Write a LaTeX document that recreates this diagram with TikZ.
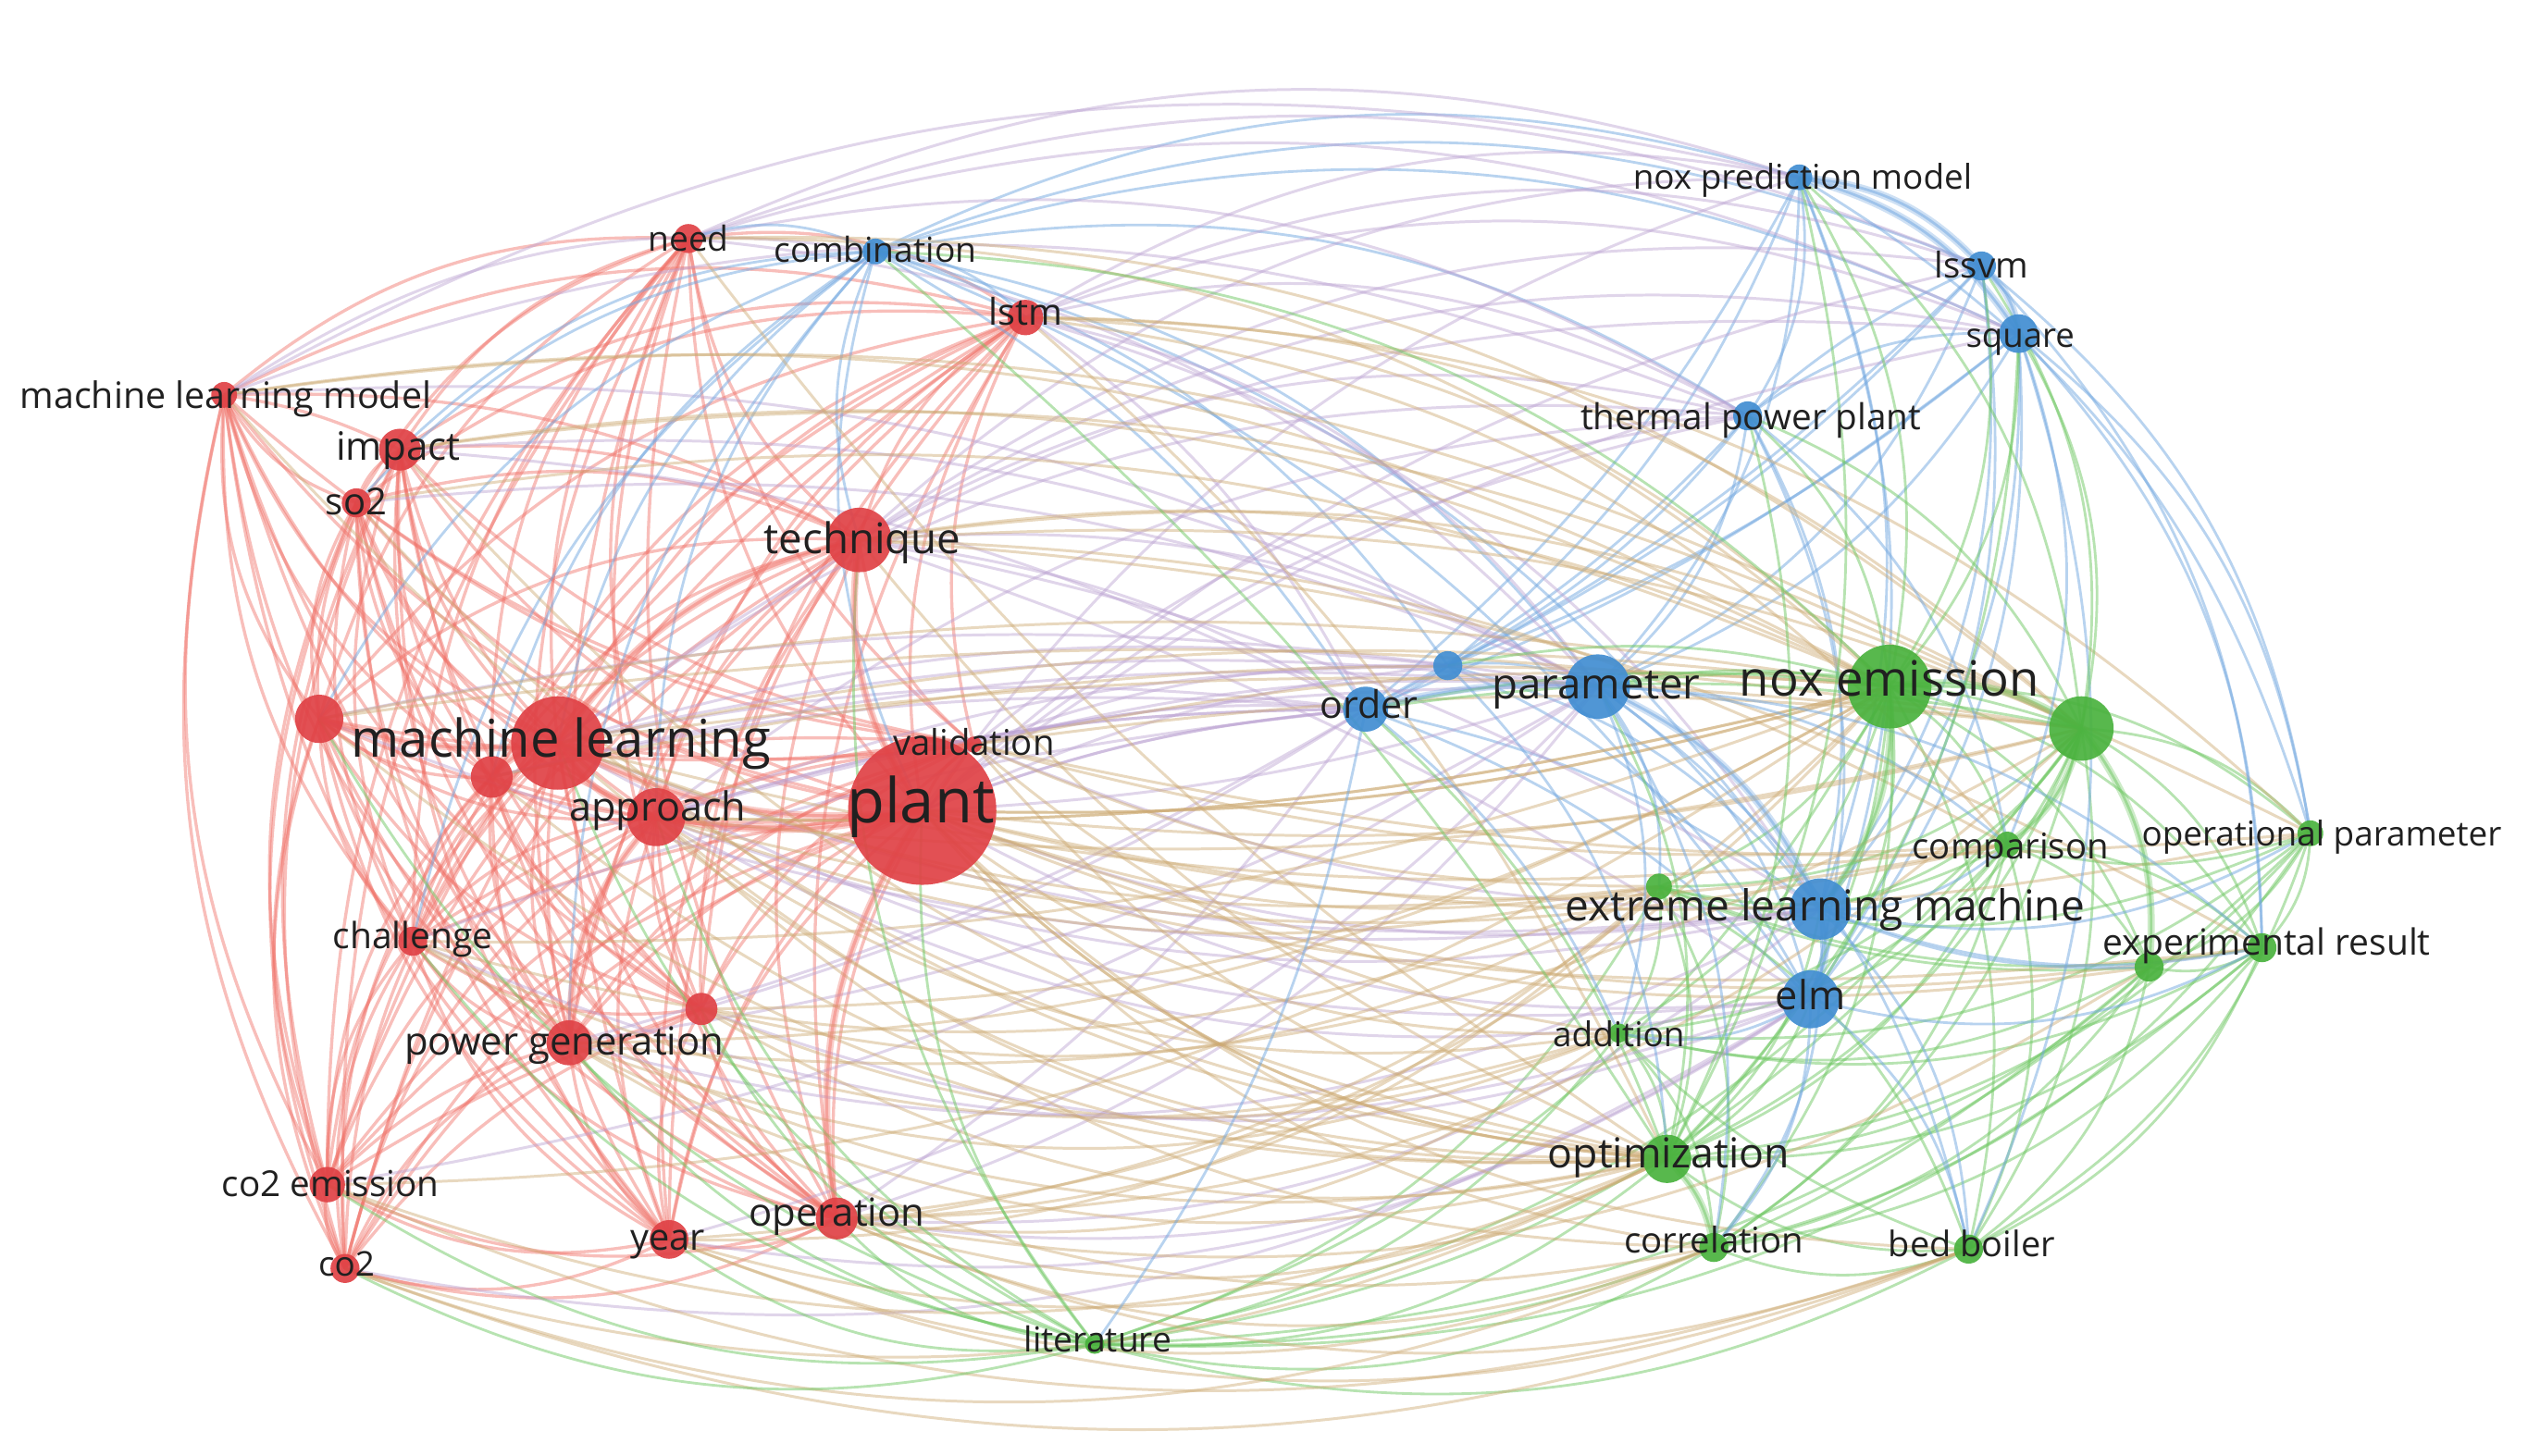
\documentclass[tikz,border=0pt]{standalone}
\usepackage{fontspec}
\setmainfont{Open Sans}
\usetikzlibrary{calc}
\pgfdeclarelayer{bg}
\pgfdeclarelayer{edges}
\pgfsetlayers{bg,edges,main}
\definecolor{nR}{RGB}{224,66,70}
\definecolor{nB}{RGB}{66,142,210}
\definecolor{nG}{RGB}{74,178,62}
\definecolor{eR}{RGB}{240,112,102}
\definecolor{eB}{RGB}{115,168,225}
\definecolor{eG}{RGB}{112,200,100}
\definecolor{eRG}{RGB}{205,170,115}
\definecolor{eRB}{RGB}{188,162,210}
\definecolor{txt}{RGB}{32,32,32}
\tikzset{
  sR/.style={draw=eR, line width=0.95pt, draw opacity=0.45},
  sB/.style={draw=eB, line width=0.8pt, draw opacity=0.5},
  sG/.style={draw=eG, line width=0.8pt, draw opacity=0.5},
  sRG/.style={draw=eRG, line width=0.85pt, draw opacity=0.45},
  sRB/.style={draw=eRB, line width=0.85pt, draw opacity=0.45},
  heavy/.style={line width=2.2pt, draw opacity=0.35},
  kw/.style={circle, inner sep=0pt, minimum size={2*#1*0.4957pt}},
  rn/.style={kw=#1, fill=nR, fill opacity=0.92},
  bn/.style={kw=#1, fill=nB, fill opacity=0.92},
  gn/.style={kw=#1, fill=nG, fill opacity=0.92},
  lab/.style={text=txt, inner sep=0pt, anchor=mid, yshift=-1.6pt, font=\fontsize{#1}{#1}\selectfont},
}
\newcommand\edgeC[3]{%
  \draw[#1] let \p1=(#2.center), \p2=(#3.center), \p3=(ctr),
    \n1={-(\y2-\y1)/100*((\x1+\x2)/200-\x3/100)+(\x2-\x1)/100*((\y1+\y2)/200-\y3/100)},
    \n2={veclen((\x2-\x1)/100,(\y2-\y1)/100)},
    \n3={ifthenelse(\n1>0,1,-1)*(7+14*min(1,abs(\n1/\n2)/0.6))}
    in (#2.center) to[bend left=\n3] (#3.center);}
\def\Rlist{plant,ml,mlx,lft,appr,tech,imp,so2,mlm,need,lstm,chal,pgen,rx,co2e,co2,year,oper,valid}
\def\Blist{comb,npm,lssvm,sq,tpp,order,bx,param,elmm,elm}
\def\Glist{noxe,gx,comp,opp,expr,expr2,gx2,addi,opt,corr,bed,lit}
\begin{document}
\begin{tikzpicture}[x=0.017423cm, y=-0.017423cm]
\begin{pgfonlayer}{bg}
\fill[white] (0,0) rectangle (1568,903);
\end{pgfonlayer}
\useasboundingbox (0,0) rectangle (1568,903);
\coordinate (ctr) at (790,460);
% red nodes
\node[rn=13] (mlx) at (305,482) {};
\node[rn=46] (plant) at (572,503) {};
\node[rn=29] (ml) at (346,461) {};
\node[rn=15] (lft) at (198,446) {};
\node[rn=18] (appr) at (407,507) {};
\node[rn=20] (tech) at (533,335) {};
\node[rn=13] (imp) at (248,279) {};
\node[rn=9] (so2) at (221,312) {};
\node[rn=8] (mlm) at (139,245) {};
\node[rn=9] (need) at (427,148) {};
\node[rn=11] (lstm) at (636,197) {};
\node[rn=9] (chal) at (256,584) {};
\node[rn=14] (pgen) at (353,647) {};
\node[rn=10] (rx) at (435,626) {};
\node[rn=11] (co2e) at (203,735) {};
\node[rn=9] (co2) at (214,787) {};
\node[rn=12] (year) at (415,769) {};
\node[rn=13] (oper) at (519,756) {};
\node[rn=5] (valid) at (604,462) {};
% blue nodes
\node[bn=8] (comb) at (543,156) {};
\node[bn=8] (npm) at (1116,110) {};
\node[bn=9] (lssvm) at (1229,165) {};
\node[bn=12] (sq) at (1252,207) {};
\node[bn=9] (tpp) at (1084,258) {};
\node[bn=14] (order) at (847,440) {};
\node[bn=9] (bx) at (898,413) {};
\node[bn=20] (param) at (991,426) {};
\node[bn=19] (elmm) at (1129,564) {};
\node[bn=18] (elm) at (1123,620) {};
% green nodes
\node[gn=26] (noxe) at (1172,426) {};
\node[gn=20] (gx) at (1291,452) {};
\node[gn=8] (comp) at (1245,524) {};
\node[gn=8] (opp) at (1433,517) {};
\node[gn=9] (expr) at (1403,588) {};
\node[gn=9] (expr2) at (1333,600) {};
\node[gn=8] (gx2) at (1029,550) {};
\node[gn=6] (addi) at (1004,641) {};
\node[gn=15] (opt) at (1034,719) {};
\node[gn=9] (corr) at (1063,774) {};
\node[gn=9] (bed) at (1221,775) {};
\node[gn=6] (lit) at (679,834) {};
\begin{pgfonlayer}{edges}
% edges within clusters
\foreach \a [count=\i] in \Rlist {\foreach \b [count=\j] in \Rlist {\ifnum\j>\i \edgeC{sR}{\a}{\b}\fi}}
\foreach \a [count=\i] in \Blist {\foreach \b [count=\j] in \Blist {\ifnum\j>\i \edgeC{sB}{\a}{\b}\fi}}
\foreach \a [count=\i] in \Glist {\foreach \b [count=\j] in \Glist {\ifnum\j>\i \edgeC{sG}{\a}{\b}\fi}}
% red - blue
\foreach \a/\b in {plant/order,plant/bx,plant/param,plant/elmm,plant/elm,plant/tpp,plant/npm,plant/sq,plant/lssvm,
  ml/order,ml/param,ml/elmm,ml/elm,ml/tpp,appr/order,appr/param,appr/elmm,appr/elm,
  tech/order,tech/param,tech/elm,tech/tpp,tech/sq,lstm/npm,lstm/tpp,lstm/param,lstm/order,lstm/lssvm,lstm/sq,
  need/npm,need/lssvm,need/tpp,mlm/npm,mlm/comb,imp/param,valid/order,valid/param,valid/elmm,
  oper/elm,oper/param,oper/order,year/param,pgen/order,pgen/param,lft/param,mlx/order,
  mlx/param,lft/elmm,imp/order,so2/param,chal/elm,chal/order,pgen/elmm,rx/elm,rx/order,year/elm,
  co2e/param,co2/elm,mlm/param,mlm/tpp,need/sq,need/param,lstm/elmm,tech/elmm,tech/npm,tech/lssvm,
  ml/bx,ml/sq,appr/bx,appr/tpp,oper/elmm,valid/bx,valid/tpp,plant/order,appr/order}
  {\edgeC{sRB}{\a}{\b}}
\foreach \a/\b in {comb/imp,comb/so2,comb/tech,comb/ml,comb/appr,comb/mlx,comb/lft,comb/plant,comb/need,comb/lstm,comb/pgen,comb/chal}
  {\edgeC{sB}{\a}{\b}}
% red - green
\foreach \a/\b in {plant/noxe,plant/gx,plant/comp,plant/opp,plant/expr,plant/opt,plant/corr,plant/bed,plant/addi,plant/gx2,
  ml/noxe,ml/opt,ml/gx,ml/expr,appr/noxe,appr/opt,appr/addi,appr/gx2,tech/noxe,tech/gx,tech/opt,tech/comp,
  oper/opt,oper/corr,oper/bed,oper/noxe,oper/gx2,oper/addi,year/opt,year/corr,year/bed,co2/bed,co2/corr,co2e/opt,
  pgen/opt,pgen/noxe,pgen/addi,lstm/noxe,lstm/gx,lstm/opp,chal/opt,rx/opt,
  valid/noxe,valid/gx,valid/opp,valid/comp,need/noxe,need/gx,mlm/noxe,imp/noxe,imp/opt,
  mlx/noxe,mlx/opt,lft/noxe,lft/gx,lft/opt,imp/gx,so2/noxe,so2/opt,chal/noxe,chal/gx2,pgen/gx,pgen/corr,
  rx/noxe,rx/addi,year/noxe,year/gx2,co2e/noxe,co2e/bed,co2/opt,mlm/gx,mlm/opt,need/opt,lstm/comp,lstm/opt,
  tech/opp,tech/expr,ml/comp,ml/gx2,appr/gx,appr/comp,appr/corr,oper/gx,oper/expr2,valid/opt,valid/addi,
  valid/gx2,plant/expr2,chal/addi,rx/gx2,plant/noxe,plant/opt,appr/noxe}
  {\edgeC{sRG}{\a}{\b}}
\foreach \a/\b in {lit/plant,lit/ml,lit/appr,lit/oper,lit/year,lit/pgen,lit/co2,lit/co2e,lit/chal,lit/rx,lit/lft,lit/tech}
  {\edgeC{sG}{\a}{\b}}
% blue - green
\foreach \a/\b in {param/comp,param/corr,param/bed,param/expr,param/addi,param/gx2,
  elmm/comp,elmm/expr,elmm/expr2,elmm/bed,elmm/corr,elmm/opp,elm/corr,elm/bed,elm/expr,elm/addi,
  order/addi,order/lit,sq/opp,sq/expr,sq/comp,sq/bed,lssvm/opp,lssvm/expr,npm/opp,tpp/comp,bx/opt}
  {\edgeC{sB}{\a}{\b}}
\foreach \a/\b in {noxe/param,gx/param,opt/param,noxe/elmm,gx/elmm,opt/elmm,noxe/elm,gx/elm,opt/elm,
  noxe/order,opt/order,gx/order,noxe/sq,gx/sq,opt/sq,gx/lssvm,noxe/lssvm,noxe/npm,gx/npm,opt/npm,
  noxe/tpp,gx/tpp,opt/tpp,noxe/bx,noxe/comb,opt/comb}
  {\edgeC{sG}{\a}{\b}}
% strong links
\foreach \a/\b in {plant/appr,plant/ml,ml/appr,plant/tech,ml/tech,ml/lft,appr/pgen,plant/oper,ml/mlx}
  {\edgeC{sR,heavy}{\a}{\b}}
\foreach \a/\b in {elmm/elm,param/elmm,lssvm/sq,npm/lssvm,npm/sq,order/param}
  {\edgeC{sB,heavy}{\a}{\b}}
\foreach \a/\b in {noxe/gx,noxe/elmm,gx/expr2,opt/corr,gx/comp}
  {\edgeC{sG,heavy}{\a}{\b}}
\end{pgfonlayer}
% labels
\node[lab=19] (t-plant) at (571,502) {plant};
\node[lab=16] (t-ml) at (348,461) {machine learning};
\node[lab=12.3] (t-appr) at (408,501) {approach};
\node[lab=13] (t-tech) at (535,335) {technique};
\node[lab=12] (t-imp) at (247,277) {impact};
\node[lab=11.4] (t-so2) at (221,311) {so2};
\node[lab=11.2] (t-mlm) at (140,245) {machine learning model};
\node[lab=10.6] (t-need) at (427,147) {need};
\node[lab=10.6] (t-comb) at (543,154) {combination};
\node[lab=11.3] (t-lstm) at (636,193) {lstm};
\node[lab=11.1] (t-chal) at (256,580) {challenge};
\node[lab=11.9] (t-pgen) at (350,646) {power generation};
\node[lab=11] (t-co2e) at (205,734) {co2 emission};
\node[lab=10.5] (t-co2) at (215,783) {co2};
\node[lab=11.3] (t-year) at (414,767) {year};
\node[lab=11.9] (t-oper) at (519,752) {operation};
\node[lab=10.9] (t-valid) at (604,460) {validation};
\node[lab=10.5] (t-npm) at (1118,109) {nox prediction model};
\node[lab=10.9] (t-lssvm) at (1229,164) {lssvm};
\node[lab=10.4] (t-sq) at (1253,207) {square};
\node[lab=11] (t-tpp) at (1086,258) {thermal power plant};
\node[lab=11.7] (t-order) at (849,437) {order};
\node[lab=13] (t-param) at (990,425) {parameter};
\node[lab=15] (t-noxe) at (1172,423) {nox emission};
\node[lab=10.9] (t-comp) at (1247,524) {comparison};
\node[lab=10.5] (t-opp) at (1440,516) {operational parameter};
\node[lab=13.1] (t-elmm) at (1132,563) {extreme learning machine};
\node[lab=12.3] (t-elm) at (1123,618) {elm};
\node[lab=11.1] (t-expr) at (1406,584) {experimental result};
\node[lab=10.5] (t-addi) at (1004,641) {addition};
\node[lab=12.7] (t-opt) at (1035,716) {optimization};
\node[lab=10.9] (t-corr) at (1063,769) {correlation};
\node[lab=10.8] (t-bed) at (1223,771) {bed boiler};
\node[lab=10.6] (t-lit) at (681,830) {literature};
\end{tikzpicture}
\end{document}
